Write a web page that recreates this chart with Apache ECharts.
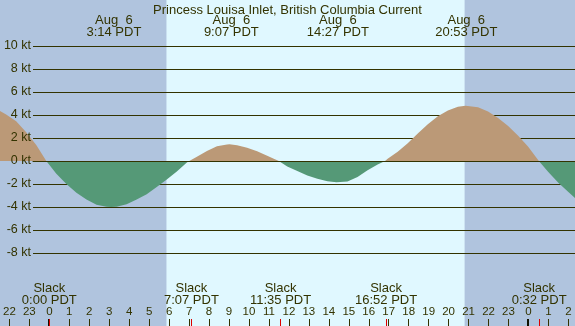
<!DOCTYPE html>
<html>
<head>
<meta charset="utf-8">
<script src="https://cdn.jsdelivr.net/npm/echarts@6/dist/echarts.min.js"></script>
<style>
  html, body { margin: 0; padding: 0; }
  #chart { width: 575px; height: 326px; }
</style>
</head>
<body>
<div id="chart"></div>
<script>
// current speed (kt), hours counted from midnight Aug 6 PDT
const hours = [-2.5, -2, -1.5, -1, -0.5, 0,
  0.5, 1, 1.5, 2, 2.5, 3, 3.23, 3.5, 4, 4.5, 5, 5.5, 6, 6.5, 7, 7.12,
  7.5, 8, 8.5, 9, 9.12, 9.5, 10, 10.5, 11, 11.58,
  12, 12.5, 13, 13.5, 14, 14.45, 15, 15.5, 16, 16.5, 16.87,
  17, 17.5, 18, 18.5, 19, 19.5, 20, 20.5, 20.88, 21.5, 22, 22.5, 23, 23.5, 24, 24.53,
  25, 25.5, 26, 26.5];
const knots = [4.55, 4.05, 3.45, 2.5, 1.4, 0,
  -1.1, -2.0, -2.75, -3.35, -3.8, -3.97, -4.0, -3.97, -3.75, -3.35, -2.9, -2.25, -1.6, -0.92, -0.12, 0,
  0.38, 0.88, 1.28, 1.44, 1.45, 1.38, 1.15, 0.85, 0.45, 0,
  -0.48, -0.88, -1.25, -1.55, -1.77, -1.85, -1.78, -1.4, -0.8, -0.3, 0,
  0.2, 0.8, 1.55, 2.4, 3.2, 3.9, 4.4, 4.72, 4.8, 4.68, 4.3, 3.75, 3.05, 2.2, 1.25, 0,
  -0.95, -1.9, -2.7, -3.5];

const sunTimes = ['5:52', '20:48'];                 // sunrise, sunset
const eventTimes = ['3:14', '9:07', '14:27', '20:53']; // max ebb / flood
const eventDate = 'Aug  6';
const slackTimes = ['0:00', '7:07', '11:35', '16:52', '24:32'];
const hourTicks = [-2, -1, 0, 1, 2, 3, 4, 5, 6, 7, 8, 9, 10, 11, 12, 13, 14,
  15, 16, 17, 18, 19, 20, 21, 22, 23, 24, 25, 26];
const midnightTicks = [-0.04, 23.96];

const X_MIN = -2.306, X_MAX = 26.33;
const INK = '#333300';
const FONT = 'Liberation Sans';

function toHour(t) {
  const p = t.split(':');
  return +p[0] + p[1] / 60;
}
function fmtTime(v) {
  const m = Math.round(v * 60);
  const h = Math.floor(m / 60) % 24;
  const mm = m % 60;
  return h + ':' + (mm < 10 ? '0' : '') + mm;
}

const chart = echarts.init(document.getElementById('chart'));

const option = {
  animation: false,
  backgroundColor: '#b0c4de',
  title: {
    text: 'Princess Louisa Inlet, British Columbia Current',
    left: 'center',
    top: -1,
    textStyle: { fontSize: 13, fontWeight: 'normal', color: INK, fontFamily: FONT }
  },
  grid: [
    { left: 0, right: 0, top: 0, bottom: 0 },
    { left: 0, right: 0, top: 46, height: 207 },
    { left: 33, right: 0, top: 46, height: 207 }
  ],
  xAxis: [
    { // hour ticks
      gridIndex: 0, type: 'value', min: X_MIN, max: X_MAX, position: 'bottom', z: 4,
      axisLine: { show: false },
      splitLine: { show: false },
      axisTick: { show: true, inside: true, length: 7, customValues: hourTicks,
        lineStyle: { color: INK, width: 1 } },
      axisLabel: { show: true, inside: true, margin: 8, customValues: hourTicks,
        formatter: v => String(((v % 24) + 24) % 24),
        color: INK, fontSize: 11.5, lineHeight: 12, fontFamily: FONT }
    },
    { // midnight markers
      gridIndex: 0, type: 'value', min: X_MIN, max: X_MAX, position: 'bottom', z: 4,
      axisLine: { show: false },
      splitLine: { show: false },
      axisTick: { show: true, inside: true, length: 7, customValues: midnightTicks,
        lineStyle: { color: '#111100', width: 2 } },
      axisLabel: { show: false }
    },
    { // slack times
      gridIndex: 0, type: 'value', min: X_MIN, max: X_MAX, position: 'bottom', z: 5,
      axisLine: { show: false },
      splitLine: { show: false },
      axisTick: { show: true, inside: true, length: 7, customValues: slackTimes.map(toHour),
        lineStyle: { color: '#dd0000', width: 1 } },
      axisLabel: { show: true, inside: true, margin: 20, customValues: slackTimes.map(toHour),
        formatter: v => 'Slack\n' + fmtTime(v) + ' PDT',
        color: INK, fontSize: 13, lineHeight: 12, fontFamily: FONT }
    },
    { // max / min current times
      gridIndex: 0, type: 'value', min: X_MIN, max: X_MAX, position: 'top', z: 4,
      axisLine: { show: false },
      splitLine: { show: false },
      axisTick: { show: false },
      axisLabel: { show: true, inside: true, margin: 14, customValues: eventTimes.map(toHour),
        formatter: v => eventDate + '\n' + fmtTime(v) + ' PDT',
        color: INK, fontSize: 13, lineHeight: 12, fontFamily: FONT }
    },
    { gridIndex: 1, type: 'value', min: X_MIN, max: X_MAX, show: false },
    { // zero line
      gridIndex: 2, type: 'value', min: 0, max: 1, z: 3,
      axisLine: { show: true, onZero: true, lineStyle: { color: INK, width: 1 } },
      axisTick: { show: false },
      axisLabel: { show: false },
      splitLine: { show: false }
    }
  ],
  yAxis: [
    { gridIndex: 0, type: 'value', min: 0, max: 1, show: false },
    {
      gridIndex: 1, type: 'value', min: -8, max: 10, interval: 2, position: 'left', offset: -33, z: 4,
      axisLine: { show: false },
      axisTick: { show: false },
      splitLine: { show: false },
      axisLabel: { margin: 2, formatter: '{value} kt', color: INK, fontSize: 12.5, fontFamily: FONT }
    },
    {
      gridIndex: 2, type: 'value', min: -8, max: 10, interval: 2, z: 1,
      axisLine: { show: false },
      axisTick: { show: false },
      axisLabel: { show: false },
      splitLine: { show: true, lineStyle: { color: INK, width: 1 } }
    }
  ],
  series: [
    {
      type: 'line', xAxisIndex: 0, yAxisIndex: 0, data: [], silent: true,
      markArea: {
        silent: true, z: 0,
        itemStyle: { color: '#e0f8ff' },
        data: [[{ xAxis: toHour(sunTimes[0]) }, { xAxis: toHour(sunTimes[1]) }]]
      }
    },
    {
      name: 'flood', type: 'line', xAxisIndex: 4, yAxisIndex: 1, z: 2, silent: true,
      symbol: 'none', lineStyle: { width: 0 },
      areaStyle: { color: '#bb9977', opacity: 1 },
      data: hours.map((h, i) => [h, Math.max(knots[i], 0)])
    },
    {
      name: 'ebb', type: 'line', xAxisIndex: 4, yAxisIndex: 1, z: 2, silent: true,
      symbol: 'none', lineStyle: { width: 0 },
      areaStyle: { color: '#559977', opacity: 1 },
      data: hours.map((h, i) => [h, Math.min(knots[i], 0)])
    }
  ]
};

chart.setOption(option);
</script>
</body>
</html>
